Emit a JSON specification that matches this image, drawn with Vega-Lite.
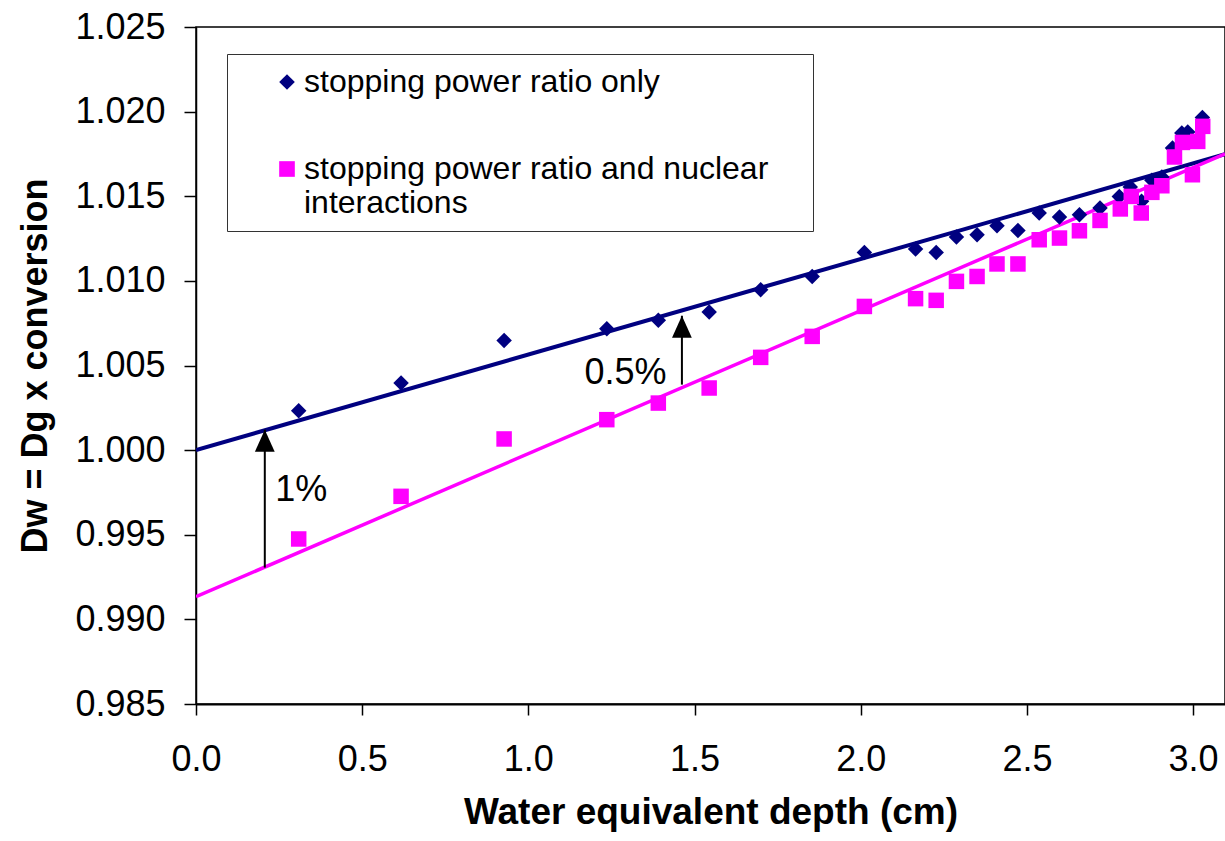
{
  "$schema": "https://vega.github.io/schema/vega-lite/v6.json",
  "width": 1029,
  "height": 677,
  "autosize": {"type": "none"},
  "padding": {"left": 196, "top": 27, "right": 0, "bottom": 137},
  "background": "white",
  "config": {
    "font": "Liberation Sans",
    "view": {"stroke": "black", "strokeWidth": 1.5},
    "axis": {"grid": false, "domainColor": "black", "tickColor": "black", "labelColor": "black", "titleColor": "black", "labelFont": "Liberation Sans", "titleFont": "Liberation Sans"},
    "legend": {"labelFont": "Liberation Sans", "titleFont": "Liberation Sans"}
  },
  "datasets": {
    "points": [
      {"series": "stopping power ratio only", "x": 0.309, "y": 1.00233},
      {"series": "stopping power ratio only", "x": 0.617, "y": 1.00397},
      {"series": "stopping power ratio only", "x": 0.927, "y": 1.00648},
      {"series": "stopping power ratio only", "x": 1.236, "y": 1.00717},
      {"series": "stopping power ratio only", "x": 1.391, "y": 1.00767},
      {"series": "stopping power ratio only", "x": 1.544, "y": 1.00816},
      {"series": "stopping power ratio only", "x": 1.699, "y": 1.00948},
      {"series": "stopping power ratio only", "x": 1.854, "y": 1.01026},
      {"series": "stopping power ratio only", "x": 2.011, "y": 1.01168},
      {"series": "stopping power ratio only", "x": 2.165, "y": 1.01188},
      {"series": "stopping power ratio only", "x": 2.227, "y": 1.01168},
      {"series": "stopping power ratio only", "x": 2.288, "y": 1.01259},
      {"series": "stopping power ratio only", "x": 2.35, "y": 1.01273},
      {"series": "stopping power ratio only", "x": 2.41, "y": 1.01326},
      {"series": "stopping power ratio only", "x": 2.473, "y": 1.01298},
      {"series": "stopping power ratio only", "x": 2.537, "y": 1.01401},
      {"series": "stopping power ratio only", "x": 2.598, "y": 1.01377},
      {"series": "stopping power ratio only", "x": 2.658, "y": 1.01391},
      {"series": "stopping power ratio only", "x": 2.72, "y": 1.0143},
      {"series": "stopping power ratio only", "x": 2.778, "y": 1.01499},
      {"series": "stopping power ratio only", "x": 2.811, "y": 1.01555},
      {"series": "stopping power ratio only", "x": 2.845, "y": 1.0147},
      {"series": "stopping power ratio only", "x": 2.876, "y": 1.01594},
      {"series": "stopping power ratio only", "x": 2.906, "y": 1.01614},
      {"series": "stopping power ratio only", "x": 2.938, "y": 1.01785},
      {"series": "stopping power ratio only", "x": 2.966, "y": 1.01874},
      {"series": "stopping power ratio only", "x": 2.984, "y": 1.0188},
      {"series": "stopping power ratio only", "x": 3.028, "y": 1.01966},
      {"series": "stopping power ratio and nuclear interactions", "x": 0.309, "y": 0.99475},
      {"series": "stopping power ratio and nuclear interactions", "x": 0.617, "y": 0.99727},
      {"series": "stopping power ratio and nuclear interactions", "x": 0.927, "y": 1.00066},
      {"series": "stopping power ratio and nuclear interactions", "x": 1.236, "y": 1.0018},
      {"series": "stopping power ratio and nuclear interactions", "x": 1.391, "y": 1.00278},
      {"series": "stopping power ratio and nuclear interactions", "x": 1.544, "y": 1.00367},
      {"series": "stopping power ratio and nuclear interactions", "x": 1.699, "y": 1.00548},
      {"series": "stopping power ratio and nuclear interactions", "x": 1.854, "y": 1.00672},
      {"series": "stopping power ratio and nuclear interactions", "x": 2.011, "y": 1.00849},
      {"series": "stopping power ratio and nuclear interactions", "x": 2.165, "y": 1.00895},
      {"series": "stopping power ratio and nuclear interactions", "x": 2.227, "y": 1.00885},
      {"series": "stopping power ratio and nuclear interactions", "x": 2.288, "y": 1.00997},
      {"series": "stopping power ratio and nuclear interactions", "x": 2.35, "y": 1.01026},
      {"series": "stopping power ratio and nuclear interactions", "x": 2.41, "y": 1.011},
      {"series": "stopping power ratio and nuclear interactions", "x": 2.473, "y": 1.011},
      {"series": "stopping power ratio and nuclear interactions", "x": 2.537, "y": 1.01243},
      {"series": "stopping power ratio and nuclear interactions", "x": 2.598, "y": 1.01253},
      {"series": "stopping power ratio and nuclear interactions", "x": 2.658, "y": 1.01296},
      {"series": "stopping power ratio and nuclear interactions", "x": 2.72, "y": 1.01357},
      {"series": "stopping power ratio and nuclear interactions", "x": 2.781, "y": 1.01425},
      {"series": "stopping power ratio and nuclear interactions", "x": 2.814, "y": 1.01499},
      {"series": "stopping power ratio and nuclear interactions", "x": 2.844, "y": 1.01401},
      {"series": "stopping power ratio and nuclear interactions", "x": 2.876, "y": 1.01523},
      {"series": "stopping power ratio and nuclear interactions", "x": 2.906, "y": 1.01562},
      {"series": "stopping power ratio and nuclear interactions", "x": 2.944, "y": 1.01732},
      {"series": "stopping power ratio and nuclear interactions", "x": 2.968, "y": 1.01818},
      {"series": "stopping power ratio and nuclear interactions", "x": 2.998, "y": 1.01627},
      {"series": "stopping power ratio and nuclear interactions", "x": 3.014, "y": 1.01824},
      {"series": "stopping power ratio and nuclear interactions", "x": 3.029, "y": 1.01913}
    ],
    "fits": [
      {"series": "only", "x": 0, "y": 1.0},
      {"series": "only", "x": 3.096, "y": 1.01748},
      {"series": "nuclear", "x": 0, "y": 0.99134},
      {"series": "nuclear", "x": 3.096, "y": 1.0175}
    ],
    "arrows": [
      {"x": 0.207, "y": 0.99306, "y2": 1.00121},
      {"x": 1.462, "y": 1.00387, "y2": 1.00794}
    ],
    "notes": [
      {"x": 0.317, "y": 0.99766, "label": "1%"},
      {"x": 1.292, "y": 1.00455, "label": "0.5%"}
    ]
  },
  "encoding": {
    "x": {
      "field": "x", "type": "quantitative",
      "scale": {"domain": [0, 3.096], "nice": false, "zero": false},
      "axis": {"title": "Water equivalent depth (cm)", "values": [0, 0.5, 1, 1.5, 2, 2.5, 3], "format": ".1f", "labelFontSize": 36, "titleFontSize": 37, "titleFontWeight": "bold", "tickSize": 11, "tickWidth": 1.5, "labelPadding": 27, "titlePadding": 17, "domainWidth": 2, "labelFlush": false}
    },
    "y": {
      "field": "y", "type": "quantitative",
      "scale": {"domain": [0.985, 1.025], "nice": false, "zero": false},
      "axis": {"title": "Dw = Dg x conversion", "values": [0.985, 0.99, 0.995, 1.0, 1.005, 1.01, 1.015, 1.02, 1.025], "format": ".3f", "labelFontSize": 36, "titleFontSize": 36, "titleFontWeight": "bold", "tickSize": 12, "tickWidth": 1.5, "labelPadding": 19, "titlePadding": 20, "domainWidth": 1.5, "labelFlush": false}
    }
  },
  "layer": [
    {
      "data": {"name": "fits"},
      "transform": [{"filter": "datum.series == 'only'"}],
      "mark": {"type": "line", "color": "#000080", "strokeWidth": 4, "clip": true}
    },
    {
      "data": {"name": "fits"},
      "transform": [{"filter": "datum.series == 'nuclear'"}],
      "mark": {"type": "line", "color": "#FF00FF", "strokeWidth": 3.5, "clip": true}
    },
    {
      "data": {"name": "points"},
      "mark": {"type": "point", "filled": true, "size": 240, "opacity": 1, "strokeWidth": 0},
      "encoding": {
        "color": {
          "field": "series", "type": "nominal",
          "scale": {"domain": ["stopping power ratio only", "stopping power ratio and nuclear interactions"], "range": ["#000080", "#FF00FF"]},
          "legend": {"title": " ", "titleOrient": "right", "titleFontSize": 32, "titlePadding": 33, "orient": "none", "legendX": 31, "legendY": 27, "strokeColor": "#333333", "fillColor": "white", "padding": 12, "symbolOffset": 32, "symbolSize": 245, "symbolStrokeWidth": 0, "labelFontSize": 32, "labelOffset": 1, "labelLimit": 700, "rowPadding": 55, "labelColor": "black", "labelExpr": "datum.label == 'stopping power ratio and nuclear interactions' ? ['stopping power ratio and nuclear', 'interactions'] : datum.label"}
        },
        "shape": {
          "field": "series", "type": "nominal",
          "scale": {"domain": ["stopping power ratio only", "stopping power ratio and nuclear interactions"], "range": ["diamond", "square"]},
          "legend": {"title": " ", "titleOrient": "right", "titleFontSize": 32, "titlePadding": 33, "orient": "none", "legendX": 31, "legendY": 27, "strokeColor": "#333333", "fillColor": "white", "padding": 12, "symbolOffset": 32, "symbolSize": 245, "symbolStrokeWidth": 0, "labelFontSize": 32, "labelOffset": 1, "labelLimit": 700, "rowPadding": 55, "labelColor": "black", "labelExpr": "datum.label == 'stopping power ratio and nuclear interactions' ? ['stopping power ratio and nuclear', 'interactions'] : datum.label"}
        }
      }
    },
    {
      "data": {"name": "arrows"},
      "mark": {"type": "rule", "color": "black", "strokeWidth": 2},
      "encoding": {"y2": {"field": "y2"}}
    },
    {
      "data": {"name": "arrows"},
      "mark": {"type": "point", "shape": "M0,0L-0.45,1L0.45,1Z", "filled": true, "color": "black", "size": 1936, "opacity": 1, "strokeWidth": 0},
      "encoding": {"y": {"field": "y2", "type": "quantitative"}}
    },
    {
      "data": {"name": "notes"},
      "mark": {"type": "text", "fontSize": 36, "color": "black", "align": "center", "baseline": "middle"},
      "encoding": {"text": {"field": "label"}}
    }
  ]
}
